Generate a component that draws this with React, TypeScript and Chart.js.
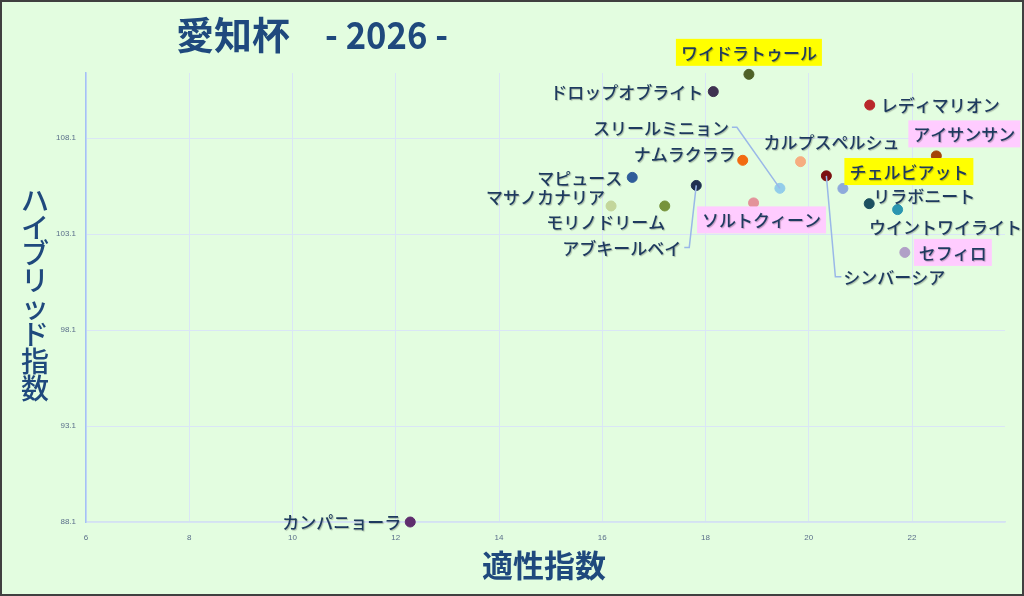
import { useEffect, useRef } from 'react'
import Chart from 'chart.js/auto'

const HORSES = [
  'ワイドラトゥール', 'ドロップオブライト', 'レディマリオン', 'アイサンサン', 'カルプスペルシュ',
  'ナムラクララ', 'マピュース', 'アブキールベイ', 'スリールミニョン', 'ソルトクィーン',
  'マサノカナリア', 'モリノドリーム', 'シンバーシア', 'チェルビアット', 'リラボニート',
  'ウイントワイライト', 'セフィロ', 'カンパニョーラ',
]
// 適性指数
const APTITUDE = [
  18.84, 18.15, 21.18, 22.47, 19.84, 18.72, 16.58, 17.82, 19.44, 18.93,
  16.17, 17.21, 20.34, 20.66, 21.17, 21.72, 21.86, 12.28,
]
// ハイブリッド指数
const HYBRID = [
  111.43, 110.53, 109.83, 107.18, 106.88, 106.95, 106.06, 105.64, 105.49, 104.73,
  104.57, 104.57, 106.14, 105.48, 104.69, 104.38, 102.15, 88.1,
]
const X_TICKS = [6, 8, 10, 12, 14, 16, 18, 20, 22]
const Y_TICKS = [88.1, 93.1, 98.1, 103.1, 108.1]

const POINT_COLORS = [
  '#4f6228', '#3f3151', '#b9282b', '#a34508', '#f6ad80', '#f26a10', '#2f5d9a', '#1f3050', '#92cdea',
  '#e3939a', '#c3d69b', '#77933c', '#7b1010', '#8eaadb', '#1c5060', '#2a95b0', '#b1a0c7', '#5f2d6e',
]
// label placement relative to its point, optional box colour, optional leader line
type Lbl = { dx: number; dy: number; align: CanvasTextAlign; box?: string; leader?: 'h' | 'v' }
const LABELS: Lbl[] = [
  { dx: 0, dy: -22, align: 'center', box: '#ffff00' },
  { dx: -10, dy: 0, align: 'right' },
  { dx: 11, dy: 0, align: 'left' },
  { dx: 28, dy: -22, align: 'center', box: '#ffccff' },
  { dx: 31, dy: -20, align: 'center' },
  { dx: -7, dy: -7, align: 'right' },
  { dx: -10, dy: 0, align: 'right' },
  { dx: -15, dy: 62, align: 'right', leader: 'h' },
  { dx: -51, dy: -61, align: 'right', leader: 'h' },
  { dx: 8, dy: 17, align: 'center', box: '#ffccff' },
  { dx: -6, dy: -9, align: 'right' },
  { dx: -59, dy: 16, align: 'center' },
  { dx: 17, dy: 101, align: 'left', leader: 'v' },
  { dx: 66, dy: -17, align: 'center', box: '#ffff00' },
  { dx: 4, dy: -8, align: 'left' },
  { dx: 48, dy: 17, align: 'center' },
  { dx: 14, dy: 0, align: 'left', box: '#ffccff' },
  { dx: -9, dy: 0, align: 'right' },
]

const NAVY = '#1f497d'
const LABEL_FONT = '500 17px "Noto Sans CJK JP"'

const decorPlugin = {
  id: 'decor',
  beforeDraw(chart: Chart) {
    const { ctx, width, height } = chart
    ctx.save()
    ctx.fillStyle = '#e3fde0'
    ctx.fillRect(0, 0, width, height)
    ctx.restore()
  },
  afterDatasetsDraw(chart: Chart) {
    const { ctx } = chart
    const meta = chart.getDatasetMeta(0)
    ctx.save()
    ctx.font = LABEL_FONT
    ctx.textBaseline = 'middle'
    meta.data.forEach((pt: any, i: number) => {
      const l = LABELS[i]
      const px = pt.x
      const py = pt.y
      const tx = px + l.dx
      const ty = py + l.dy
      const w = ctx.measureText(HORSES[i]).width
      const left = l.align === 'left' ? tx : l.align === 'right' ? tx - w : tx - w / 2
      if (l.leader) {
        ctx.strokeStyle = '#9ab8e8'
        ctx.lineWidth = 1.5
        ctx.beginPath()
        if (l.leader === 'h') {
          const ex = l.align === 'right' ? tx + 3 : left - 3
          ctx.moveTo(ex, ty)
          ctx.lineTo(ex + 5, ty)
          ctx.lineTo(px, py)
        } else {
          ctx.moveTo(px, py)
          ctx.lineTo(left - 8, ty)
          ctx.lineTo(left - 2, ty)
        }
        ctx.stroke()
      }
      if (l.box) {
        ctx.fillStyle = l.box
        ctx.fillRect(left - 5, ty - 13.5, w + 10, 27)
      }
      ctx.shadowColor = 'rgba(0,0,0,0.25)'
      ctx.shadowOffsetX = 1
      ctx.shadowOffsetY = 1
      ctx.shadowBlur = 1
      ctx.fillStyle = '#1e3a5f'
      ctx.textAlign = 'left'
      ctx.fillText(HORSES[i], left, ty + 1)
      ctx.shadowColor = 'transparent'
    })
    ctx.restore()
  },
  afterDraw(chart: Chart) {
    const { ctx, width, height } = chart
    ctx.save()
    ctx.fillStyle = NAVY
    ctx.textBaseline = 'middle'
    ctx.textAlign = 'left'
    ctx.font = 'bold 38px "Noto Sans CJK JP"'
    ctx.fillText('愛知杯', 176, 35, 119)
    ctx.fillText('- 2026 -', 325, 35, 123)

    ctx.font = 'bold 31px "Noto Sans CJK JP"'
    ctx.textAlign = 'center'
    ctx.fillText('適性指数', 544, 565)

    ctx.font = '500 28px "Noto Sans CJK JP"'
    Array.from('ハイブリッド指数').forEach((ch, i) => {
      ctx.fillText(ch, 35, 200 + i * 26.9)
    })

    ctx.strokeStyle = '#404040'
    ctx.lineWidth = 2
    ctx.strokeRect(1, 1, width - 2, height - 2)
    ctx.restore()
  },
}

export default function App() {
  const canvasRef = useRef<HTMLCanvasElement>(null)

  useEffect(() => {
    if (!canvasRef.current) return
    const chart = new Chart(canvasRef.current, {
      type: 'scatter',
      data: {
        datasets: [{
          data: APTITUDE.map((x, i) => ({ x, y: HYBRID[i] })),
          backgroundColor: POINT_COLORS,
          borderColor: POINT_COLORS,
          pointRadius: 5,
          pointHoverRadius: 5,
          clip: false,
        }],
      },
      options: {
        responsive: false,
        animation: false,
        layout: { padding: { left: 0, top: 73, right: 19, bottom: 0 } },
        plugins: { legend: { display: false }, tooltip: { enabled: false } },
        scales: {
          x: {
            type: 'linear',
            min: 6,
            max: 23.8,
            afterBuildTicks: (s: any) => { s.ticks = X_TICKS.map(v => ({ value: v })) },
            afterFit: (s: any) => { s.height = 74 },
            grid: { color: '#dae6f6', drawTicks: false },
            border: { color: '#d3e2f0', width: 1.5 },
            ticks: { color: '#5a6e8a', font: { size: 8, family: '"Liberation Sans"' }, padding: 11, maxRotation: 0 },
          },
          y: {
            type: 'linear',
            min: 88.1,
            max: 111.5,
            afterBuildTicks: (s: any) => { s.ticks = Y_TICKS.map(v => ({ value: v })) },
            afterFit: (s: any) => { s.width = 86 },
            grid: { color: '#dae6f6', drawTicks: false },
            border: { color: '#a4c2f4', width: 1.5 },
            ticks: {
              color: '#5a6e8a',
              font: { size: 8, family: '"Liberation Sans"' },
              padding: 10,
              callback: (v: any) => Number(v).toFixed(1),
            },
          },
        },
      },
      plugins: [decorPlugin],
    })
    return () => { chart.destroy() }
  }, [])

  return (
    <div style={{ position: 'fixed', left: 0, top: 0, width: 1024, height: 596 }}>
      <canvas ref={canvasRef} width={1024} height={596} />
    </div>
  )
}
